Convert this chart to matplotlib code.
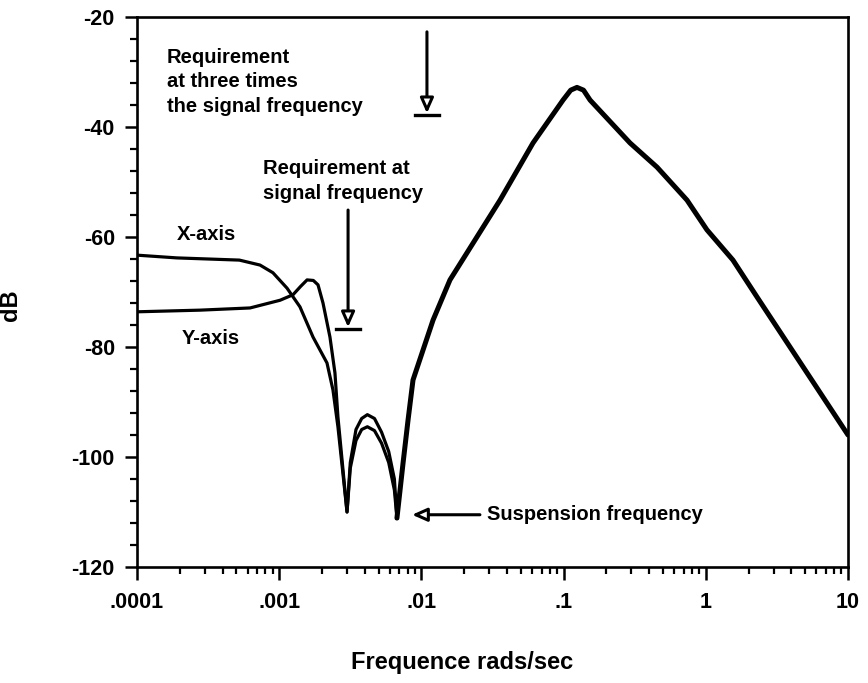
import numpy as np
import matplotlib
matplotlib.use("Agg")
import matplotlib.pyplot as plt
from matplotlib.ticker import FixedLocator, LogLocator, MultipleLocator, NullFormatter

plt.rcParams['font.family'] = ['Liberation Sans', 'DejaVu Sans']
plt.rcParams['axes.unicode_minus'] = False

# low-frequency part, where the two axes differ (log10 of rad/s, dB)
x_axis_logf = [-4.0, -3.72, -3.28, -3.135, -3.044, -2.945, -2.854, -2.762,
               -2.664, -2.622, -2.587, -2.523,
               -2.50, -2.46, -2.42, -2.38, -2.33, -2.28, -2.23, -2.19, -2.172]
x_axis_db = [-63.3, -63.8, -64.2, -65.1, -66.5, -69.3, -72.7, -78.2,
             -82.9, -87.8, -94.5, -110.0,
             -101.0, -95.0, -93.0, -92.3, -93.0, -95.5, -99.0, -104.0, -111.1]

y_axis_logf = [-4.0, -3.557, -3.205, -2.994, -2.903, -2.85, -2.804, -2.76,
               -2.727, -2.692, -2.643, -2.608, -2.587, -2.523,
               -2.50, -2.46, -2.42, -2.38, -2.33, -2.28, -2.23, -2.19, -2.172]
y_axis_db = [-73.6, -73.3, -72.9, -71.5, -70.5, -69.0, -67.8, -67.9,
             -68.7, -72.0, -78.2, -84.7, -92.7, -110.0,
             -102.0, -97.0, -95.0, -94.5, -95.2, -97.5, -101.0, -106.0, -111.1]

# high-frequency part, common to both axes
common_logf = [-2.172, -2.129, -2.094, -2.059, -1.918, -1.799, -1.447, -1.215,
               -1.004, -0.95, -0.906, -0.86, -0.814, -0.533, -0.343, -0.132,
               0.008, 0.191, 0.36, 1.0]
common_db = [-111.1, -101.1, -93.3, -86.0, -75.1, -67.8, -53.3, -42.9,
             -35.1, -33.3, -32.8, -33.3, -35.1, -42.9, -47.3, -53.3,
             -58.7, -64.2, -70.9, -96.0]

signal_freq = 0.00305
signal_req_db = -76.4
triple_freq = 0.01094
triple_req_db = -37.5
suspension_freq = 0.0086
suspension_db = -110.5

x_ticks = [1e-4, 1e-3, 1e-2, 1e-1, 1, 10]
x_tick_labels = ['.0001', '.001', '.01', '.1', '1', '10']
y_ticks = [-120, -100, -80, -60, -40, -20]

fig = plt.figure(figsize=(8.68, 6.83), dpi=100)
ax = fig.add_axes([137 / 868, 1 - 567 / 683, 711 / 868, 550 / 683])

lw = 2.3
ax.plot(10 ** np.array(x_axis_logf), x_axis_db, color='black', lw=lw)
ax.plot(10 ** np.array(y_axis_logf), y_axis_db, color='black', lw=lw)
# both curves lie on top of each other here, so the line reads thicker
ax.plot(10 ** np.array(common_logf), common_db, color='black', lw=3.6,
        solid_capstyle='round')

ax.set_xscale('log')
ax.set_xlim(1e-4, 10)
ax.set_ylim(-120, -20)

ax.xaxis.set_major_locator(FixedLocator(x_ticks))
ax.set_xticklabels(x_tick_labels)
ax.xaxis.set_minor_locator(LogLocator(base=10, subs=np.arange(2, 10)))
ax.xaxis.set_minor_formatter(NullFormatter())
ax.set_yticks(y_ticks)
ax.yaxis.set_minor_locator(MultipleLocator(4))

ax.tick_params(which='major', direction='out', length=9, width=1.8,
               labelsize=15.5, colors='black')
ax.tick_params(axis='x', which='major', pad=9)
ax.tick_params(axis='y', which='major', pad=7)
ax.tick_params(which='minor', direction='out', length=5, width=1.6)
for lbl in ax.get_xticklabels() + ax.get_yticklabels():
    lbl.set_fontweight('bold')
for s in ax.spines.values():
    s.set_linewidth(1.9)

ax.set_xlabel('Frequence rads/sec', fontsize=17, fontweight='bold')
ax.set_ylabel('dB', fontsize=17, fontweight='bold')
ax.xaxis.set_label_coords(0.457, -0.152)
ax.yaxis.set_label_coords(-0.162, 0.476)

txt = dict(fontsize=14.5, color='black', linespacing=1.35, fontweight='bold')
ax.text(1.626e-4, -31.8, 'Requirement\nat three times\nthe signal frequency',
        ha='left', va='center', **txt)
ax.text(7.69e-4, -49.8, 'Requirement at\nsignal frequency',
        ha='left', va='center', **txt)
ax.text(1.91e-4, -59.6, 'X-axis', ha='left', va='center', **txt)
ax.text(2.07e-4, -78.4, 'Y-axis', ha='left', va='center', **txt)
ax.text(0.0289, suspension_db, 'Suspension frequency', ha='left', va='center', **txt)

arrow = dict(arrowstyle='-|>,head_length=0.9,head_width=0.4', color='black',
             lw=2.2, fc='white', shrinkA=0, shrinkB=0)

# requirement markers: arrow down onto a short bar
bar_half = 10 ** 0.084
for f, db, top in [(triple_freq, triple_req_db, -22.7),
                   (signal_freq, signal_req_db, -55.1)]:
    ax.annotate('', xy=(f, db), xytext=(f, top), arrowprops=arrow)
    ax.plot([f / bar_half, f * bar_half], [db - 0.3, db - 0.3],
            color='black', lw=2.4)

ax.annotate('', xy=(suspension_freq, suspension_db),
            xytext=(0.0258, suspension_db), arrowprops=arrow)

fig.savefig('out.png', dpi=100, facecolor='white')
